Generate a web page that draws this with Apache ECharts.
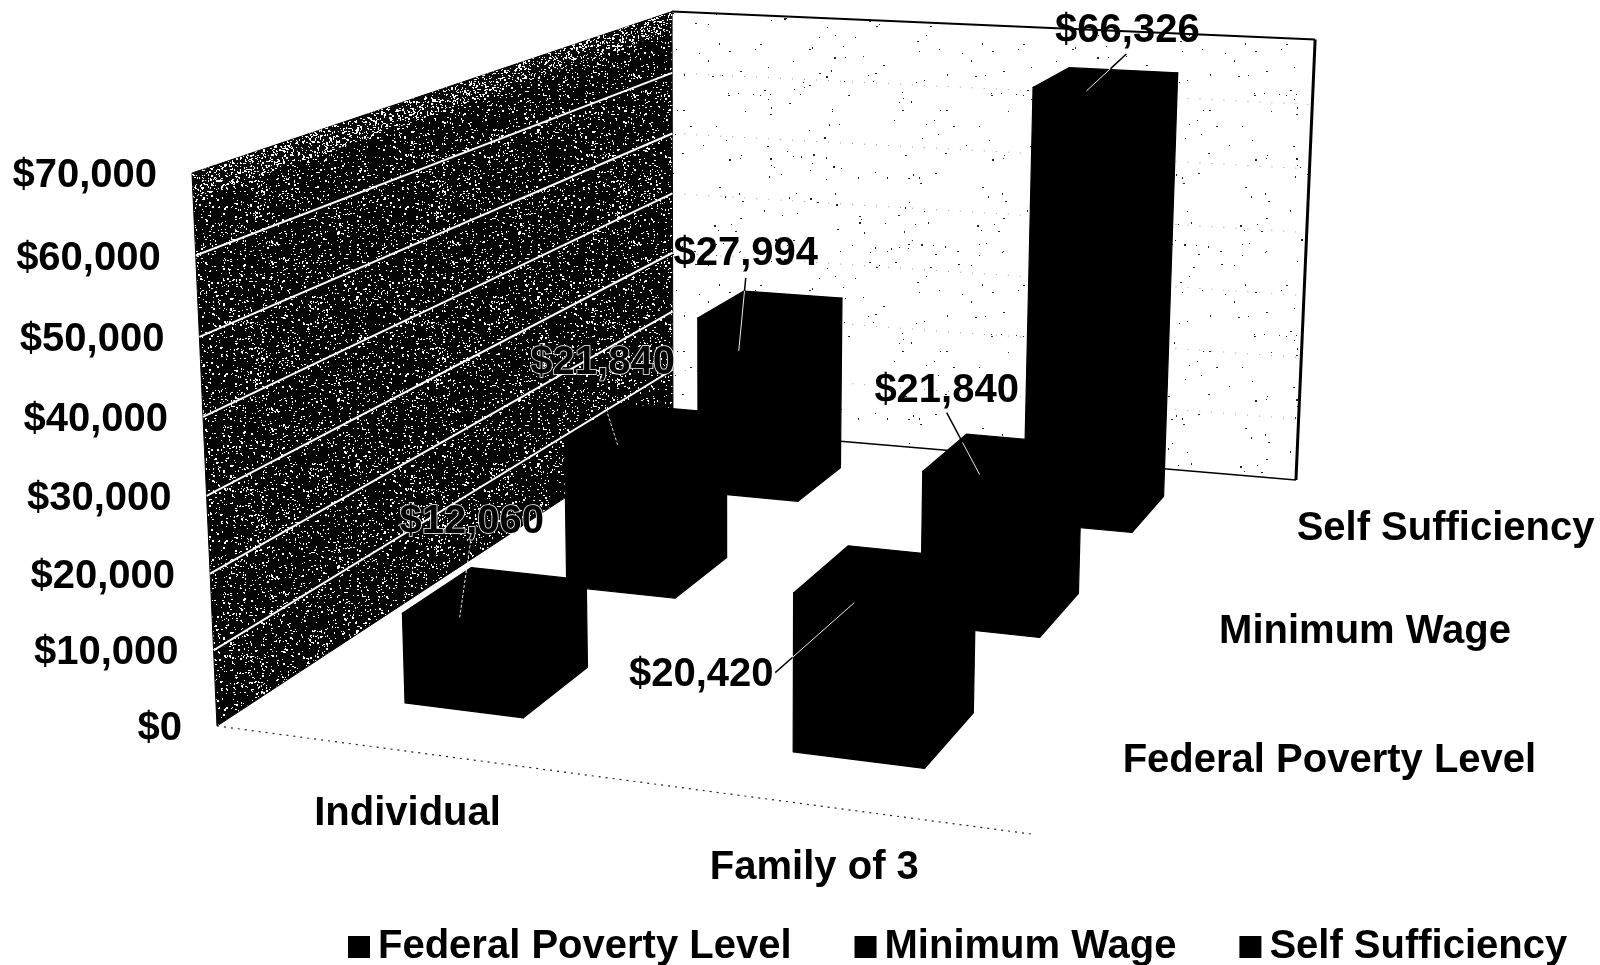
<!DOCTYPE html>
<html>
<head>
<meta charset="utf-8">
<style>html,body{margin:0;padding:0;background:#fff}#chart{width:1600px;height:965px}</style>
<script src="https://cdn.jsdelivr.net/npm/echarts@6/dist/echarts.min.js"></script>
</head>
<body>
<div id="chart"></div>
<script>
// ---- chart values ----
const categories = ['Individual', 'Family of 3'];
const seriesNames = ['Federal Poverty Level', 'Minimum Wage', 'Self Sufficiency'];
const federalPovertyLevel = [12060, 20420];
const minimumWage = [21840, 21840];
const selfSufficiency = [27994, 66326];
const tickValues = [0, 10000, 20000, 30000, 40000, 50000, 60000, 70000];
const tickLabels = ['$0', '$10,000', '$20,000', '$30,000', '$40,000', '$50,000', '$60,000', '$70,000'];
const valueLabels = [['$12,060', '$20,420'], ['$21,840', '$21,840'], ['$27,994', '$66,326']];

// ---- view: projective camera (category u, depth w, height h) -> screen ----
const CAM = {
  a: 707.9, b: 691.8, p: -34.5, c: 217,
  d: 22.2, e: -149.4, q: -561.5, f: 726,
  g: -0.1029, h: 0.3504, r: -0.0494
};
function project(u, w, t) {
  const te = t * (1 - 0.018 * u);
  const n = CAM.g * u + CAM.h * w + CAM.r * te + 1;
  return [(CAM.a * u + CAM.b * w + CAM.p * te + CAM.c) / n - 5 * u * t,
          (CAM.d * u + CAM.e * w + CAM.q * te + CAM.f) / n];
}
const BAR_HALF_U = 0.079, BAR_HALF_W = 0.066, BAR_SHIFT_U = 0.006;
const FONT = 'bold 40px "Liberation Sans", Arial, sans-serif';
const TEXT_DY = 3;

// offsets from the projected bar-top centre: text, leader start, leader end, black share of the leader
const labelLayout = [
  [{t: [-24, -77], a: [-25, -56], b: [-36, 21], k: 0},   {t: [-185, 96], a: [-111, 97], b: [-32, 27], k: 0.22}],
  [{t: [-44, -66], a: [-39, -12], b: [-29, 19], k: 0},   {t: [-57, -70], a: [-57, -45], b: [-24, 17], k: 0.48}],
  [{t: [-25, -57], a: [-25, -30], b: [-32, 43], k: 0.18}, {t: [21, -52], a: [20, -26], b: [-20, 11], k: 0.4}]
];

// ---- wall textures (fixed stipple tiles) ----
function stipple(w, h, bg, dot, count) {
  const cv = document.createElement('canvas');
  cv.width = w; cv.height = h;
  const c = cv.getContext('2d');
  c.fillStyle = bg; c.fillRect(0, 0, w, h);
  c.fillStyle = dot;
  const frac = v => v - Math.floor(v);
  for (let i = 1; i <= count; i++) {
    const x = Math.floor(frac(Math.sin(i * 12.9898) * 43758.5453) * w);
    const y = Math.floor(frac(Math.sin(i * 78.233) * 24634.6345) * h);
    c.fillRect(x, y, i % 3 === 0 ? 2 : 1, i % 4 === 0 ? 2 : 1);
  }
  return cv;
}
const darkTile = stipple(181, 167, '#040404', '#ffffff', 1700);
const denseTile = stipple(181, 167, '#0a0a0a', '#ffffff', 4600);
const lightTile = stipple(263, 241, '#ffffff', '#222222', 170);

const chart = echarts.init(document.getElementById('chart'), null, {renderer: 'canvas'});

function heightOf(api, v) {
  return 1 - api.coord([0, v])[1] / api.getHeight();
}
function poly(points, fill) {
  return {type: 'polygon', shape: {points}, style: {fill, stroke: fill, lineWidth: 1.2, lineJoin: 'round'}};
}
function seg(a, b, stroke, lineWidth, lineDash) {
  return {type: 'line', shape: {x1: a[0], y1: a[1], x2: b[0], y2: b[1]},
          style: {stroke, lineWidth, lineDash: lineDash || null, fill: null}};
}
function txt(x, y, text, align, extra) {
  return {type: 'text', style: Object.assign({x, y: y + TEXT_DY, text, font: FONT, fill: '#000', align: align || 'center', verticalAlign: 'middle'}, extra || {})};
}

function renderWalls(params, api) {
  const kids = [];
  const A = project(0, 0, 0), B = project(1, 0, 0), C = project(1, 1, 0), D = project(0, 1, 0);
  const E = project(0, 0, 1), F = project(0, 1, 1), G = project(1, 1, 1);
  kids.push({type: 'polygon', shape: {points: [F, G, C, D]}, style: {fill: {image: lightTile, repeat: 'repeat'}, stroke: null}});
  kids.push({type: 'polygon', shape: {points: [E, F, D, A]}, style: {fill: {image: darkTile, repeat: 'repeat'}, stroke: '#000', lineWidth: 1}});
  kids.push({type: 'polygon', shape: {points: [E, F, project(0, 1, 0.955), project(0, 0, 0.955)]}, style: {fill: {image: denseTile, repeat: 'repeat'}, stroke: null}});
  kids.push(seg(F, G, '#000', 2));
  kids.push(seg(G, C, '#000', 3));
  kids.push(seg(C, D, '#000', 1.5));
  kids.push(seg(A, B, '#222', 1.2, [2, 5]));
  tickValues.forEach((v, i) => {
    const t = heightOf(api, v);
    const p0 = project(0, 0, t), p1 = project(0, 1, t), p2 = project(1, 1, t);
    if (i > 0 && i < tickValues.length - 1) {
      kids.push(seg(p0, p1, '#fff', 2));
      kids.push(seg(p1, p2, '#999', 1, [1, 11]));
    }
    kids.push(txt(p0[0] - 35, p0[1], tickLabels[i], 'right'));
  });
  categories.forEach((name, i) => {
    const u = api.coord([i, 0])[0] / api.getWidth() + 0.008;
    const p = project(u, 0, 0);
    kids.push(txt(p[0] - 3, p[1] + 59, name));
  });
  seriesNames.forEach((name, i) => {
    const p = project(1, (i + 0.5) / seriesNames.length, 0);
    kids.push(txt(p[0] + 34, p[1] + 1, name, 'left'));
  });
  return {type: 'group', children: kids};
}

function barRenderer(rowIndex) {
  return function (params, api) {
    const cat = api.value(0), val = api.value(1);
    const u = api.coord([cat, 0])[0] / api.getWidth() + BAR_SHIFT_U;
    const w = (rowIndex + 0.5) / seriesNames.length;
    const t = heightOf(api, val);
    const u0 = u - BAR_HALF_U, u1 = u + BAR_HALF_U, w0 = w - BAR_HALF_W, w1 = w + BAR_HALF_W;
    const color = api.visual('color');
    const P = (a, b, c) => project(a, b, c);
    const kids = [
      poly([P(u0, w0, 0), P(u1, w0, 0), P(u1, w0, t), P(u0, w0, t)], color),
      poly([P(u1, w0, 0), P(u1, w1, 0), P(u1, w1, t), P(u1, w0, t)], color),
      poly([P(u0, w0, t), P(u1, w0, t), P(u1, w1, t), P(u0, w1, t)], color)
    ];
    const top = P(u, w, t), L = labelLayout[rowIndex][cat];
    const a = [top[0] + L.a[0], top[1] + L.a[1]], b = [top[0] + L.b[0], top[1] + L.b[1]];
    const m = [a[0] + (b[0] - a[0]) * L.k, a[1] + (b[1] - a[1]) * L.k];
    if (L.k > 0) kids.push(seg(a, m, '#000', 1.5));
    kids.push(seg(m, b, '#e8e8e8', 1, L.k > 0 ? null : [3, 2]));
    const onWall = rowIndex < 2 && cat === 0;
    kids.push(txt(top[0] + L.t[0], top[1] + L.t[1], valueLabels[rowIndex][cat], 'center',
      onWall ? {stroke: '#fff', lineWidth: 1.5} : null));
    return {type: 'group', children: kids};
  };
}

function toPairs(values) { return values.map((v, i) => [i, v]); }

chart.setOption({
  animation: false,
  backgroundColor: '#fff',
  grid: {left: 0, right: 0, top: 0, bottom: 0, containLabel: false},
  xAxis: {type: 'category', data: categories, show: false},
  yAxis: {type: 'value', min: 0, max: 70000, interval: 10000, show: false},
  legend: {
    data: seriesNames.map(name => ({name, icon: 'rect'})),
    left: 348, top: 927, padding: 0,
    itemWidth: 22, itemHeight: 22, itemGap: 63,
    textStyle: {fontFamily: '"Liberation Sans", Arial, sans-serif', fontWeight: 'bold', fontSize: 40, color: '#000', padding: [0, 0, 0, 3]},
    selectedMode: false
  },
  series: [
    {type: 'custom', name: 'walls', z: 1, silent: true, renderItem: renderWalls, data: [[0, 0]], encode: {x: 0, y: 1}},
    {type: 'custom', name: seriesNames[0], z: 4, silent: true, renderItem: barRenderer(0), itemStyle: {color: '#000'}, data: toPairs(federalPovertyLevel), encode: {x: 0, y: 1}},
    {type: 'custom', name: seriesNames[1], z: 3, silent: true, renderItem: barRenderer(1), itemStyle: {color: '#000'}, data: toPairs(minimumWage), encode: {x: 0, y: 1}},
    {type: 'custom', name: seriesNames[2], z: 2, silent: true, renderItem: barRenderer(2), itemStyle: {color: '#000'}, data: toPairs(selfSufficiency), encode: {x: 0, y: 1}}
  ]
});
</script>
</body>
</html>
